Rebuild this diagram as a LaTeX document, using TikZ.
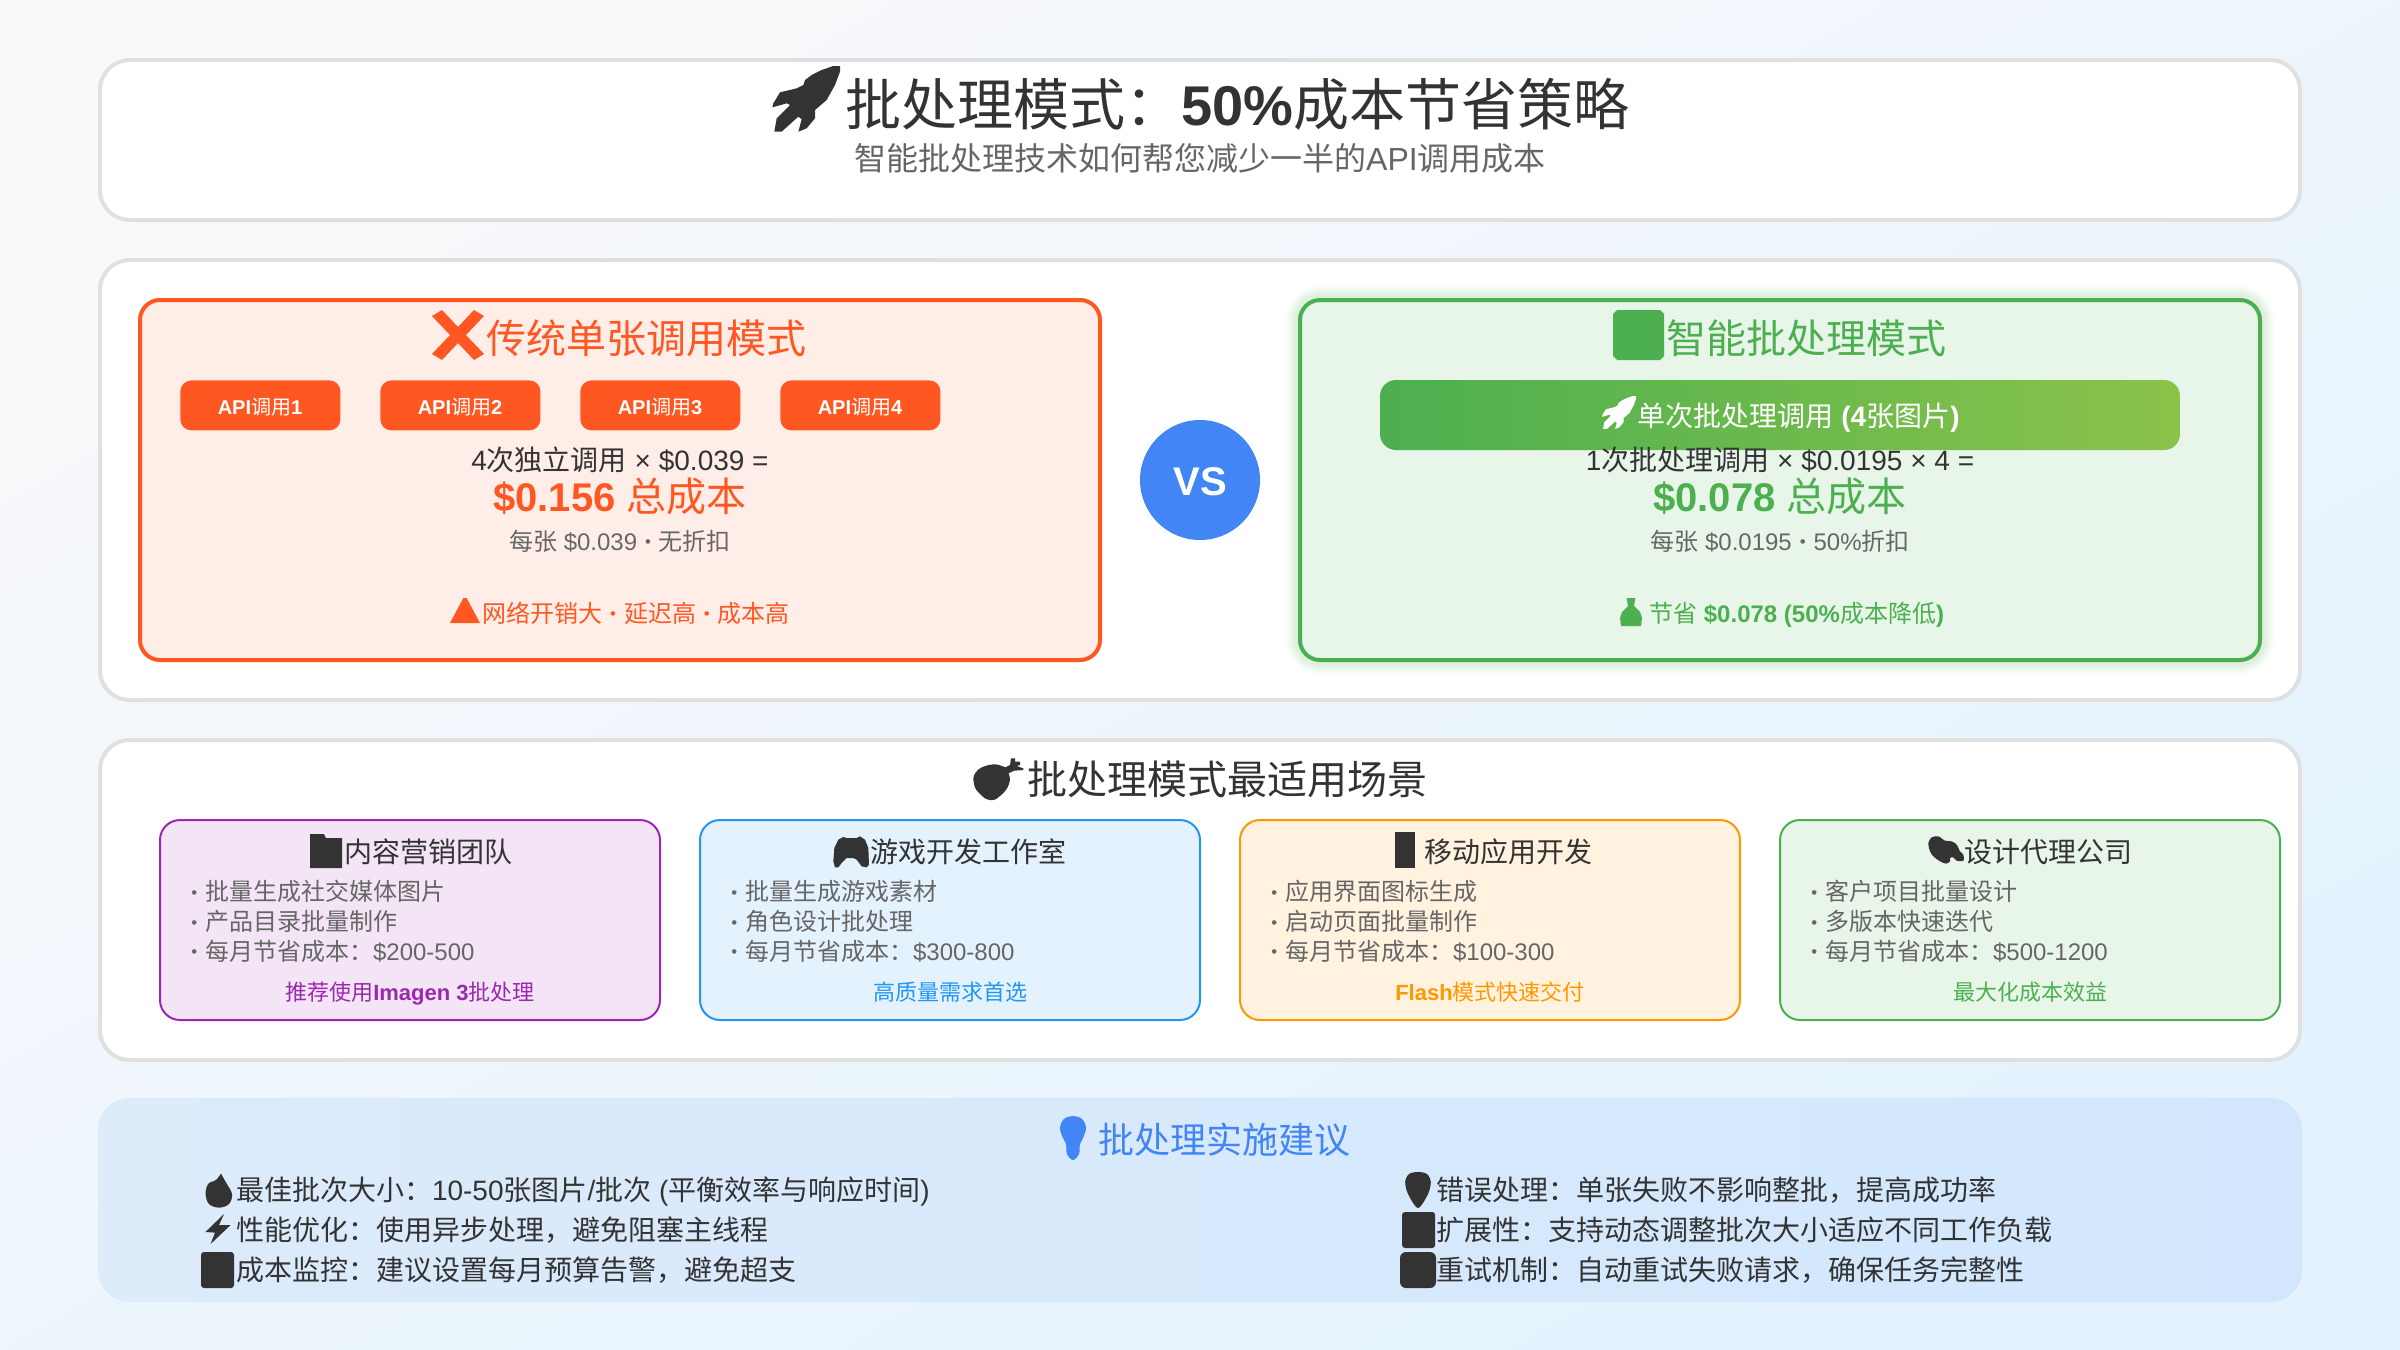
\documentclass[tikz,border=0pt]{standalone}
\usepackage{fontspec}
\setmainfont{Liberation Sans}
\newfontfamily\cjkfont{Noto Sans CJK SC}
\newcommand\zh[1]{{\cjkfont\mdseries #1}}
\newcommand\bul{\makebox[0.35em]{\raisebox{0.11em}{\scalebox{0.7}{•}}}}
\definecolor{ink}{HTML}{333333}
\definecolor{muted}{HTML}{666666}
\definecolor{edge}{HTML}{E0E0E0}
\definecolor{bgA}{HTML}{F8F9FB}
\definecolor{bgB}{HTML}{E3F2FD}
\definecolor{tipA}{HTML}{DDEBFB}
\definecolor{tipB}{HTML}{D2E7FD}
\definecolor{orangeR}{HTML}{FF5722}
\definecolor{orangeBg}{HTML}{FFEEE8}
\definecolor{greenG}{HTML}{4CAF50}
\definecolor{greenBg}{HTML}{E8F5E9}
\definecolor{lime}{HTML}{8BC34A}
\definecolor{purpleP}{HTML}{9C27B0}
\definecolor{purpleBg}{HTML}{F3E5F5}
\definecolor{blueB}{HTML}{2196F3}
\definecolor{blueBg}{HTML}{E3F2FD}
\definecolor{amberA}{HTML}{FF9800}
\definecolor{amberBg}{HTML}{FFF3E0}
\definecolor{vsblue}{HTML}{4285F4}
\tikzset{
  fs/.style={font=\fontsize{#1}{#1}\selectfont},
  txt/.style={inner sep=0pt,outer sep=0pt,anchor=base},
  ltxt/.style={inner sep=0pt,outer sep=0pt,anchor=base west},
  panel/.style={draw=edge,line width=2pt,fill=white,rounded corners=15pt},
  card/.style={line width=2pt,rounded corners=10pt},
  scen/.style={line width=1pt,rounded corners=10pt},
  apibox/.style={fill=orangeR,rounded corners=5.5pt},
}
\newcommand\rocketshape[1]{\fill[#1] (225,18)--(205,18)--(170,30)--(140,45)--(120,60)--(115,75)--(95,85)--(45,97)--(25,130)--(22,142)--(65,130)--(75,135)--(50,160)--(35,175)--(28,215)--(50,215)--(100,170)--(110,178)--(100,215)--(125,205)--(150,175)--(150,150)--(185,120)--(210,75)--(225,35)--cycle;}
\begin{document}
\begin{tikzpicture}[x=1pt,y=-1pt]
\useasboundingbox (0,0) rectangle (1200,675);
\shade[top color=bgA,bottom color=bgB,shading angle=29.4] (0,0) rectangle (1200,675);

% panels
\draw[panel] (50,30) rectangle (1150,110);
\draw[panel] (50,130) rectangle (1150,350);
\draw[panel] (50,370) rectangle (1150,530);
\shade[rounded corners=16pt,left color=tipA,right color=tipB] (49,549) rectangle (1151,651);

% header
\begin{scope}[shift={(382.5,30)},scale=1/6]
\rocketshape{ink}
\end{scope}
\node[txt,fs=28,text=ink] (title) at (618.7,62.7) {\zh{批处理模式：}\textbf{50\%}\zh{成本节省策略}};
\node[txt,fs=16,text=muted] (subtitle) at (600,85.3) {\zh{智能批处理技术如何帮您减少一半的}API\zh{调用成本}};

% left card
\draw[card,draw=orangeR,fill=orangeBg] (70,150) rectangle (550,330);
\fill[orangeR] (216,158)--(221,155)--(229,163.5)--(237,155)--(242,158)--(233,167.5)--(242,177)--(237,180)--(229,171.5)--(221,180)--(216,177)--(225,167.5)--cycle;
\node[txt,fs=20,text=orangeR] (ltitle) at (323.3,176.7) {\zh{传统单张调用模式}};
\foreach \i/\x in {1/90,2/190,3/290,4/390}{
  \node[apibox,inner sep=0pt,minimum width=80pt,minimum height=25pt,anchor=north west] (api\i) at (\x,190) {};
  \node[txt,fs=10,text=white] (apit\i) at (\x+40,207) {\textbf{API}\zh{调用}\textbf{\i}};
}
\node[txt,fs=14,text=ink] (lcalc) at (310,235.4) {4\zh{次独立调用} × \$0.039 =};
\node[txt,fs=20,text=orangeR] (ltotal) at (310,255.5) {\textbf{\$0.156} \zh{总成本}};
\node[txt,fs=12,text=muted] (lunit) at (310,275) {\zh{每张} \$0.039 \bul{} \zh{无折扣}};
\fill[orangeR] (231.7,299)--(233.3,299)--(240,311.5)--(225,311.5)--cycle;
\node[txt,fs=12,text=orangeR] (lwarn) at (318,311) {\zh{网络开销大} \bul{} \zh{延迟高} \bul{} \zh{成本高}};

% VS
\node[circle,fill=vsblue,minimum size=60pt,inner sep=0pt] (vs) at (600,240) {};
\node[txt,fs=20,text=white] (vst) at (600,247.5) {\textbf{VS}};

% right card
\foreach \w/\o in {14/0.025,12/0.03,10/0.035,8/0.04,6/0.05}{
  \draw[greenG,line width=\w pt,rounded corners=10pt,opacity=\o] (650,150) rectangle (1130,330);
}
\draw[card,draw=greenG,fill=greenBg] (650,150) rectangle (1130,330);
\fill[greenG] (808.5,155)--(830,155)--(832,157)--(832,178)--(830,180)--(808.5,180)--(806.5,178)--(806.5,157)--cycle;
\node[txt,fs=20,text=greenG] (rtitle) at (903.3,176.7) {\zh{智能批处理模式}};
\shade[rounded corners=8pt,left color=greenG,right color=lime] (690,190) rectangle (1090,225);
\begin{scope}[shift={(799.2,196.5)},scale=0.0837]
\rocketshape{white}
\end{scope}
\node[txt,fs=14,text=white] (rbar) at (899.3,213) {\zh{单次批处理调用} \textbf{(4}\zh{张图片}\textbf{)}};
\node[txt,fs=14,text=ink] (rcalc) at (890,235.4) {1\zh{次批处理调用} × \$0.0195 × 4 =};
\node[txt,fs=20,text=greenG] (rtotal) at (890,255.5) {\textbf{\$0.078} \zh{总成本}};
\node[txt,fs=12,text=muted] (runit) at (890,275) {\zh{每张} \$0.0195 \bul{} 50\%\zh{折扣}};
\fill[greenG] (813.3,299)--(817.7,299)--(817,303)--(820,306)--(821,309)--(820.5,313)--(810.5,313)--(810,309)--(811,306)--(814,303)--cycle;
\node[txt,fs=12,text=greenG] (rsave) at (898.3,311) {\zh{节省} \textbf{\$0.078 (50\%}\zh{成本降低}\textbf{)}};

% scenarios heading
\fill[ink] plot[smooth cycle,tension=0.8] coordinates {(494.5,382.5)(501,383)(504,386)(504.5,392)(500,398)(495,400)(490,397)(487,392)(488,386)};
\begin{scope}[shift={(482.5,375)},scale=1/6]
\fill[ink] (115,55)--(135,45)--(138,25)--(150,25)--(150,35)--(165,35)--(165,45)--(155,48)--(175,55)--(175,60)--(148,62)--(130,70)--(125,80)--cycle;
\end{scope}
\node[txt,fs=20,text=ink] (stitle) at (613.6,397) {\zh{批处理模式最适用场景}};

% scenario 1
\draw[scen,draw=purpleP,fill=purpleBg] (80,410) rectangle (330,510);
\fill[ink] (155,417)--(162,417)--(163,419)--(171,419)--(171,434)--(155,434)--cycle;
\node[txt,fs=14,text=ink] (s1t) at (214.3,431.2) {\zh{内容营销团队}};
\node[ltxt,fs=12,text=muted] (s1a) at (95,450.4) {\bul{} \zh{批量生成社交媒体图片}};
\node[ltxt,fs=12,text=muted] (s1b) at (95,465.4) {\bul{} \zh{产品目录批量制作}};
\node[ltxt,fs=12,text=muted] (s1c) at (95,480.2) {\bul{} \zh{每月节省成本：}\$200-500};
\node[txt,fs=11,text=purpleP] (s1f) at (205,500) {\zh{推荐使用}\textbf{Imagen 3}\zh{批处理}};

% scenario 2
\draw[scen,draw=blueB,fill=blueBg] (350,410) rectangle (600,510);
\begin{scope}[shift={(412.5,414)},scale=1/6]
\fill[ink] (40,35)--(55,27)--(65,30)--(95,30)--(105,25)--(120,35)--(130,60)--(132,110)--(125,118)--(110,115)--(95,95)--(85,90)--(65,90)--(50,105)--(40,118)--(30,118)--(25,100)--(28,60)--cycle;
\end{scope}
\node[txt,fs=14,text=ink] (s2t) at (484.3,431.2) {\zh{游戏开发工作室}};
\node[ltxt,fs=12,text=muted] (s2a) at (365,450.4) {\bul{} \zh{批量生成游戏素材}};
\node[ltxt,fs=12,text=muted] (s2b) at (365,465.4) {\bul{} \zh{角色设计批处理}};
\node[ltxt,fs=12,text=muted] (s2c) at (365,480.2) {\bul{} \zh{每月节省成本：}\$300-800};
\node[txt,fs=11,text=blueB] (s2f) at (475,500) {\zh{高质量需求首选}};

% scenario 3
\draw[scen,draw=amberA,fill=amberBg] (620,410) rectangle (870,510);
\fill[ink] (697.7,416) rectangle (707.5,434);
\node[txt,fs=14,text=ink] (s3t) at (754.3,431.2) {\zh{移动应用开发}};
\node[ltxt,fs=12,text=muted] (s3a) at (635,450.4) {\bul{} \zh{应用界面图标生成}};
\node[ltxt,fs=12,text=muted] (s3b) at (635,465.4) {\bul{} \zh{启动页面批量制作}};
\node[ltxt,fs=12,text=muted] (s3c) at (635,480.2) {\bul{} \zh{每月节省成本：}\$100-300};
\node[txt,fs=11,text=amberA] (s3f) at (745,500) {\textbf{Flash}\zh{模式快速交付}};

% scenario 4
\draw[scen,draw=greenG,fill=greenBg] (890,410) rectangle (1140,510);
\begin{scope}[shift={(960,414)},scale=1/6]
\fill[ink] plot[smooth cycle,tension=0.5] coordinates {(25,45)(35,28)(55,25)(75,38)(95,40)(110,50)(120,70)(130,80)(130,98)(110,98)(100,88)(90,90)(90,100)(78,107)(60,100)(40,85)(30,70)};
\end{scope}
\node[txt,fs=14,text=ink] (s4t) at (1024,431.2) {\zh{设计代理公司}};
\node[ltxt,fs=12,text=muted] (s4a) at (905,450.4) {\bul{} \zh{客户项目批量设计}};
\node[ltxt,fs=12,text=muted] (s4b) at (905,465.4) {\bul{} \zh{多版本快速迭代}};
\node[ltxt,fs=12,text=muted] (s4c) at (905,480.2) {\bul{} \zh{每月节省成本：}\$500-1200};
\node[txt,fs=11,text=greenG] (s4f) at (1015,500) {\zh{最大化成本效益}};

% tips
\fill[vsblue] plot[smooth cycle,tension=0.6] coordinates {(536.5,558)(541,559.5)(543,564)(541.5,569)(540,572)(539.5,577)(536.5,580)(533.5,577)(533,572)(531.5,569)(530,564)(532,559.5)};
\node[txt,fs=18,text=vsblue] (ttitle) at (612,576.6) {\zh{批处理实施建议}};

\fill[ink] plot[smooth cycle,tension=0.6] coordinates {(110.5,589)(113,591.5)(116,597)(114.5,602)(109.5,603.8)(104.5,602)(102.8,597)(104,592)(107,590.5)};
\fill[ink] (110.5,586.8)--(114,593)--(106,593)--cycle;
\fill[ink] (112,607)--(102.7,616)--(107.5,616.3)--(105.3,622)--(115.3,612.5)--(109.5,612.5)--cycle;
\fill[ink,rounded corners=1.5pt] (100.5,626) rectangle (117,644);
\node[ltxt,fs=14,text=ink] (t1) at (118,600) {\zh{最佳批次大小：}10-50\zh{张图片}/\zh{批次} (\zh{平衡效率与响应时间})};
\node[ltxt,fs=14,text=ink] (t2) at (118,620) {\zh{性能优化：使用异步处理，避免阻塞主线程}};
\node[ltxt,fs=14,text=ink] (t3) at (118,640) {\zh{成本监控：建议设置每月预算告警，避免超支}};

\fill[ink] plot[smooth cycle,tension=0.5] coordinates {(709,586)(713.5,587)(715.4,591)(714,597)(709,604)(704,597)(702.6,591)(704.5,587)};
\fill[ink,rounded corners=1.5pt] (701,606) rectangle (717.6,624);
\fill[ink,rounded corners=3pt] (700,626) rectangle (718,644);
\node[ltxt,fs=14,text=ink] (t4) at (718,600) {\zh{错误处理：单张失败不影响整批，提高成功率}};
\node[ltxt,fs=14,text=ink] (t5) at (718,620) {\zh{扩展性：支持动态调整批次大小适应不同工作负载}};
\node[ltxt,fs=14,text=ink] (t6) at (718,640) {\zh{重试机制：自动重试失败请求，确保任务完整性}};
\end{tikzpicture}
\end{document}
